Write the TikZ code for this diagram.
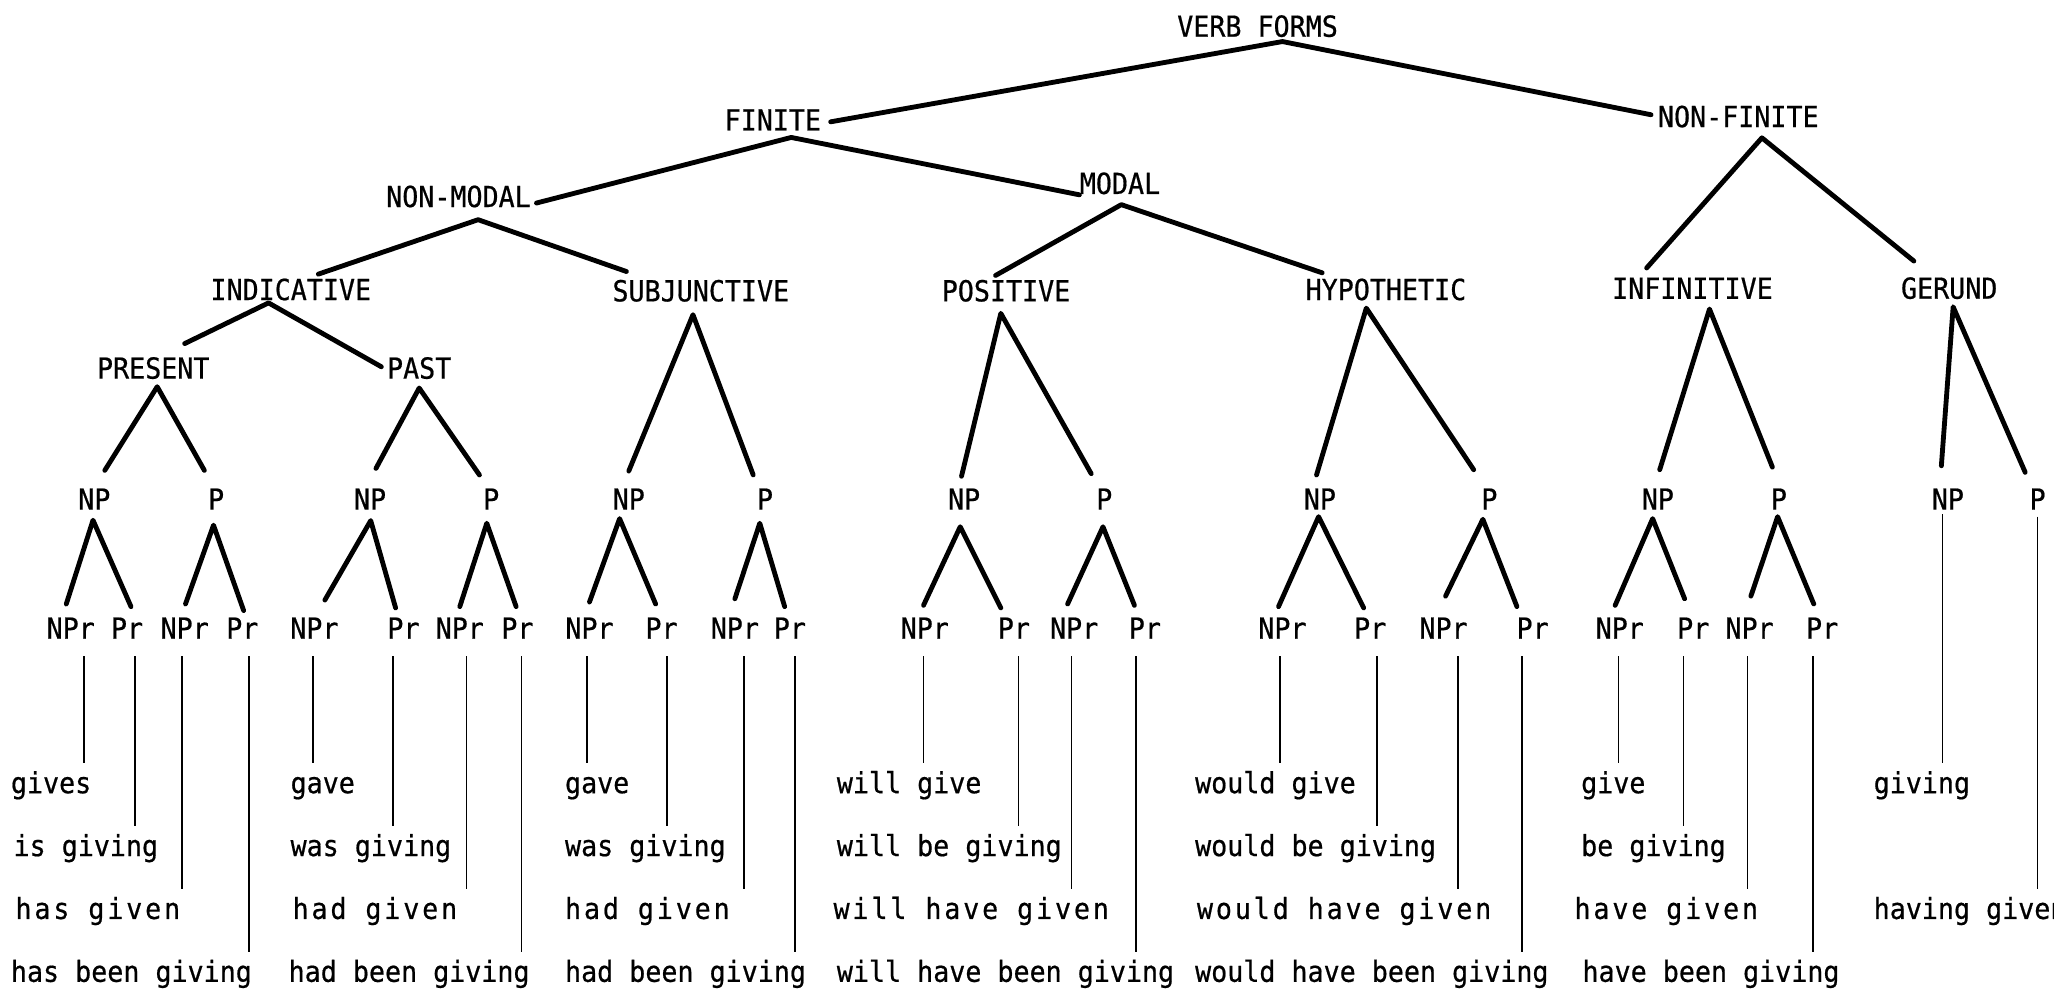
\documentclass[tikz,border=0pt]{standalone}
\usepackage{fontspec}
\setmainfont[FakeStretch=0.92,FakeBold=0.6]{DejaVu Sans Mono}
\newfontfamily\widefont[FakeStretch=0.92,FakeBold=0.6,LetterSpace=9.9]{DejaVu Sans Mono}
\usetikzlibrary{calc}
\newcommand\lf{\fontsize{12.6}{14}\selectfont}
\newcommand\stemline[3]{\draw[stem] (#1.south) ++(#2,13) coordinate (t) -- (t |- #3.north);}
\begin{document}
\begin{tikzpicture}[x=0.02cm,y=-0.02cm,
  lab/.style={inner sep=0pt, font=\lf},
  word/.style={inner sep=0pt, anchor=base west, font=\lf, text height=9.6pt, text depth=3pt},
  wide/.style={word, font=\widefont\lf},
  branch/.style={line width=2.1pt, line cap=round, line join=round},
  stem/.style={line width=0.7pt, shorten >=0.11cm},
]
\useasboundingbox (0,0) rectangle (1568,763);

% upper levels
\node[lab] (vf)   at (960,20)    {VERB FORMS};
\node[lab] (fin)  at (590,91.5)  {FINITE};
\node[lab] (nfin) at (1327,89)   {NON-FINITE};
\node[lab] (nmod) at (350,150)   {NON-MODAL};
\node[lab] (mod)  at (855,140)   {MODAL};
\node[lab] (ind)  at (222,221)   {INDICATIVE};
\node[lab] (subj) at (535,222)   {SUBJUNCTIVE};
\node[lab] (pos)  at (768,222)   {POSITIVE};
\node[lab] (hyp)  at (1058,221)  {HYPOTHETIC};
\node[lab] (inf)  at (1292,220)  {INFINITIVE};
\node[lab] (ger)  at (1488,220)  {GERUND};
\node[lab] (pres) at (117,281)   {PRESENT};
\node[lab] (past) at (320,281)   {PAST};

% NP / P
\foreach \n/\x/\t in {np1/72/NP, p1/165/P, np2/282.5/NP, p2/375/P, np3/480/NP, p3/584/P,
  np4/736/NP, p4/843/P, np5/1007.6/NP, p5/1137/P, np6/1265.6/NP, p6/1358/P, np7/1487/NP, p7/1555.5/P}
  \node[lab] (\n) at (\x,381) {\t};

% NPr / Pr
\foreach \c/\xa/\xb/\xc/\xd in {1/54/97/141/185, 2/240/308/351/395, 3/450/505/561/603,
  4/706/774/820/874, 5/979/1046/1102/1170, 6/1236.5/1292.6/1335.6/1391}{
  \node[lab] (a\c) at (\xa,479.5) {NPr};
  \node[lab] (b\c) at (\xb,479.5) {Pr};
  \node[lab] (c\c) at (\xc,479.5) {NPr};
  \node[lab] (d\c) at (\xd,479.5) {Pr};
}

% words
\node[word] (w11) at (8,605.5)   {gives};
\node[word] (w12) at (10,653.5)  {is giving};
\node[wide] (w13) at (11.5,701.5){has given};
\node[word] (w14) at (8,749.5)   {has been giving};
\node[word] (w21) at (221.5,605.5) {gave};
\node[word] (w22) at (221.5,653.5) {was giving};
\node[wide] (w23) at (223,701.5)   {had given};
\node[word] (w24) at (220,749.5)   {had been giving};
\node[word] (w31) at (431,605.5) {gave};
\node[word] (w32) at (431,653.5) {was giving};
\node[wide] (w33) at (431,701.5) {had given};
\node[word] (w34) at (431,749.5) {had been giving};
\node[word] (w41) at (638.5,605.5) {will give};
\node[word] (w42) at (638.5,653.5) {will be giving};
\node[wide] (w43) at (636,701.5)   {will have given};
\node[word] (w44) at (638.5,749.5) {will have been giving};
\node[word] (w51) at (912,605.5)   {would give};
\node[word] (w52) at (912,653.5)   {would be giving};
\node[wide] (w53) at (913.4,701.5) {would have given};
\node[word] (w54) at (912,749.5)   {would have been giving};
\node[word] (w61) at (1206.7,605.5) {give};
\node[word] (w62) at (1206.7,653.5) {be giving};
\node[wide] (w63) at (1201.6,701.5) {have given};
\node[word] (w64) at (1207.7,749.5) {have been giving};
\node[word] (w71) at (1430,605.5) {giving};
\node[word] (w73) at (1430,701.5) {having given};

% branches, upper levels
\draw[branch] ($(fin.east)+(7,1.5)$) -- ($(vf.south)+(19,3)$) -- ($(nfin.west)+(-5,-1.4)$);
\draw[branch] ($(nmod.east)+(4,5)$) -- ($(fin.south)+(14,5)$) -- (mod.south west);
\draw[branch] ($(ind.north)+(21,-3)$) -- ($(nmod.south)+(15,9)$) -- ($(subj.north west)+(11,-6)$);
\draw[branch] ($(pres.north)+(24,-10)$) -- ($(ind.south)+(-17,1.5)$) -- ($(past.west)+(-4,-1)$);
\draw[branch] ($(np1.north)+(8,-13.5)$) -- ($(pres.south)+(3,5.5)$) -- ($(p1.north)+(-9,-13.5)$);
\draw[branch] ($(np2.north)+(4.5,-15)$) -- ($(past.south)+(0,6.5)$) -- ($(p2.north)+(-9,-10)$);
\draw[branch] ($(np3.north)+(0,-13)$) -- ($(subj.south)+(-6,9.5)$) -- ($(p3.north)+(-9,-10)$);
\draw[branch] ($(pos.north)+(-8,-3)$) -- ($(mod.south)+(1,7.5)$) -- ($(hyp.north west)+(13,-4)$);
\draw[branch] ($(np4.north)+(-2,-9)$) -- ($(pos.south)+(-4,8.5)$) -- ($(p4.north)+(-10,-11)$);
\draw[branch] ($(np5.north)+(-2.6,-10)$) -- ($(hyp.south)+(-15,5.5)$) -- ($(p5.north)+(-12,-14)$);
\draw[branch] ($(inf.north)+(-35,-7)$) -- ($(nfin.south)+(18,7.5)$) -- ($(ger.north)+(-27,-12)$);
\draw[branch] ($(np6.north)+(1.4,-14)$) -- ($(inf.south)+(13,7.5)$) -- ($(p6.north)+(-5,-16)$);
\draw[branch] ($(np7.north)+(-5,-17)$) -- ($(ger.south)+(3,5.5)$) -- ($(p7.north)+(-9.5,-12)$);

% branches, NP/P to NPr/Pr
\draw[branch] ($(a1.north)+(-3.4,-10)$) -- ($(np1.south)+(-1,7.7)$) -- ($(b1.north)+(3,-8)$);
\draw[branch] ($(c1.north)+(0.6,-10)$) -- ($(p1.south)+(-2,11.5)$) -- ($(d1.north)+(1,-5)$);
\draw[branch] ($(a2.north)+(8,-13)$) -- ($(np2.south)+(0.5,8)$) -- ($(b2.north)+(-6,-7)$);
\draw[branch] ($(c2.north)+(0,-8)$) -- ($(p2.south)+(-3.4,10)$) -- ($(d2.north)+(-1,-8)$);
\draw[branch] ($(a3.north)+(0,-11.5)$) -- ($(np3.south)+(-7,6.5)$) -- ($(b3.north)+(-4.5,-10)$);
\draw[branch] ($(c3.north)+(0,-14)$) -- ($(p3.south)+(-4,10)$) -- ($(d3.north)+(-4,-8)$);
\draw[branch] ($(a4.north)+(-1,-9)$) -- ($(np4.south)+(-3,12.7)$) -- ($(b4.north)+(-10,-7)$);
\draw[branch] ($(c4.north)+(-5,-10)$) -- ($(p4.south)+(-1,12.7)$) -- ($(d4.north)+(-8,-9)$);
\draw[branch] ($(a5.north)+(-3,-8)$) -- ($(np5.south)+(-1,5)$) -- ($(b5.north)+(-5,-7)$);
\draw[branch] ($(c5.north)+(1.5,-16)$) -- ($(p5.south)+(-5,7)$) -- ($(d5.north)+(-12,-8)$);
\draw[branch] ($(a6.north)+(-3.5,-9)$) -- ($(np6.south)+(-4,6.5)$) -- ($(b6.north)+(-6.6,-14)$);
\draw[branch] ($(c6.north)+(1,-16)$) -- ($(p6.south)+(-1,5)$) -- ($(d6.north)+(-6.4,-10)$);

% stems to the words
\stemline{a1}{10}{w11} \stemline{b1}{6}{w12} \stemline{c1}{-2}{w13} \stemline{d1}{5}{w14}
\stemline{a2}{-1}{w21} \stemline{b2}{-8}{w22} \stemline{c2}{5}{w23} \stemline{d2}{3}{w24}
\stemline{a3}{-2}{w31} \stemline{b3}{4}{w32} \stemline{c3}{7}{w33} \stemline{d3}{4}{w34}
\stemline{a4}{-1}{w41} \stemline{b4}{3.5}{w42} \stemline{c4}{-2}{w43} \stemline{d4}{-7}{w44}
\stemline{a5}{-2}{w51} \stemline{b5}{5}{w52} \stemline{c5}{11}{w53} \stemline{d5}{-8}{w54}
\stemline{a6}{-1}{w61} \stemline{b6}{-7.6}{w62} \stemline{c6}{-1.6}{w63} \stemline{d6}{-7}{w64}
\draw[stem] (np7.south) ++(-4,3) coordinate (t) -- (t |- w71.north);
\draw[stem] (p7.south) ++(0,5) coordinate (t) -- (t |- w73.north);
\end{tikzpicture}
\end{document}
